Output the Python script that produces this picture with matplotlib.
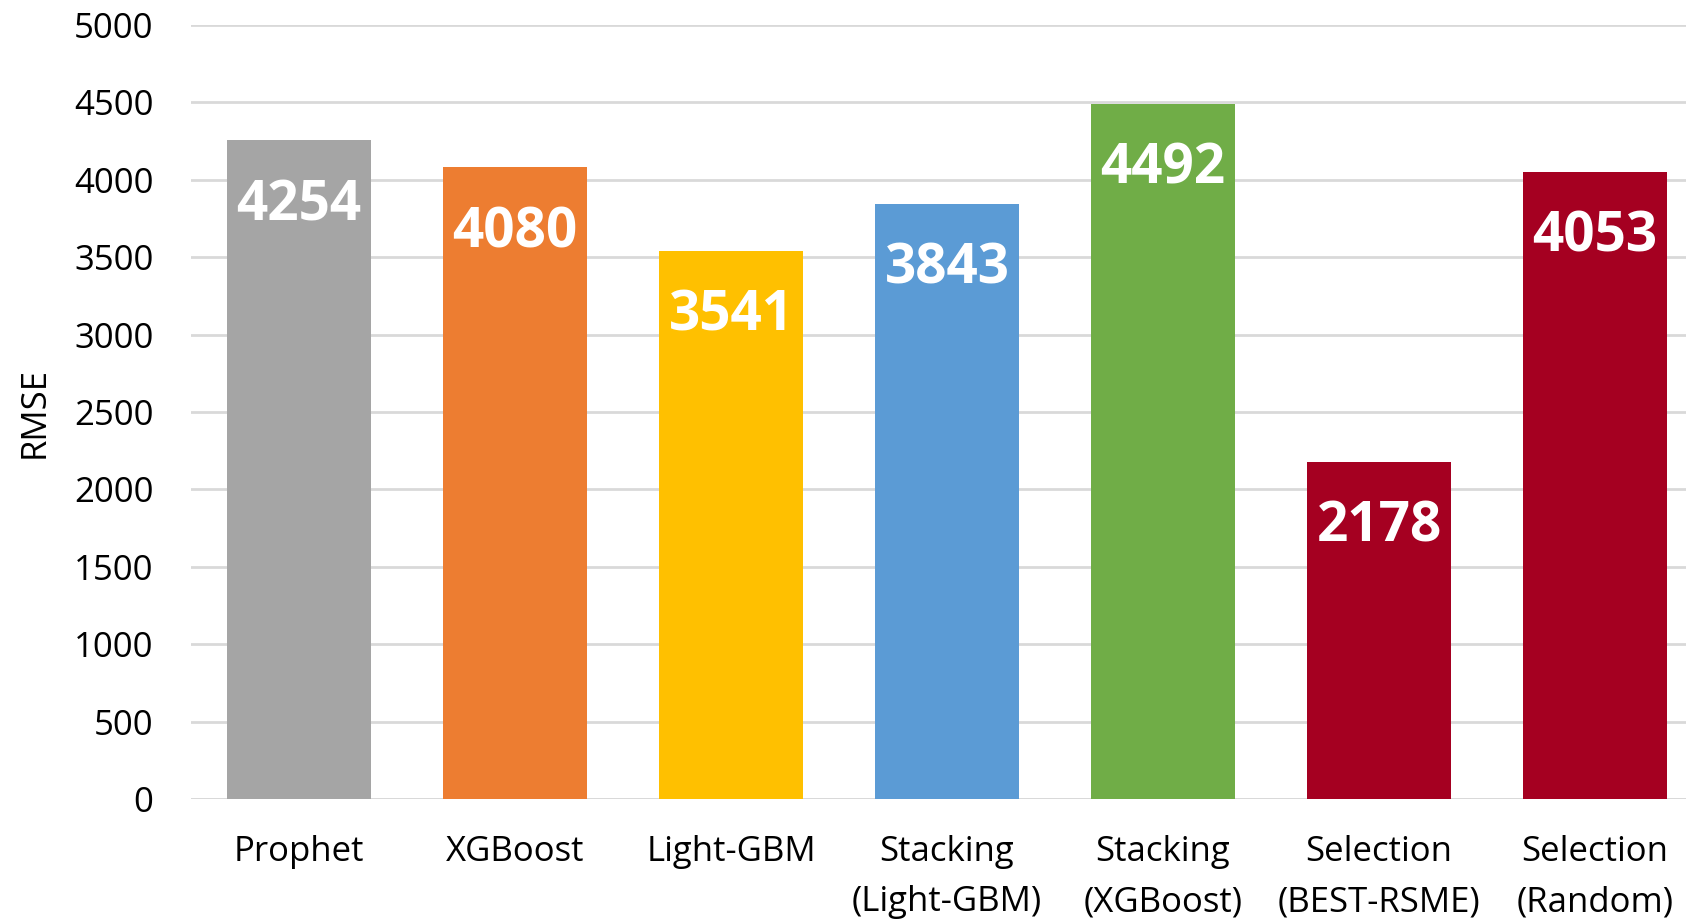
import numpy as np
import matplotlib.pyplot as plt

# chart data
models = ["Prophet", "XGBoost", "Light-GBM", "Stacking\n(Light-GBM)",
          "Stacking\n(XGBoost)", "Selection\n(BEST-RSME)", "Selection\n(Random)"]
rmse = [4254, 4080, 3541, 3843, 4492, 2178, 4053]
colours = ["#A5A5A5", "#ED7D31", "#FFC000", "#5B9BD5", "#70AD47", "#A50021", "#A50021"]
y_ticks = np.arange(0, 5001, 500)

plt.rcParams["font.family"] = ["Open Sans", "DejaVu Sans"]

fig = plt.figure(figsize=(16.86, 9.22), dpi=100)
# axes runs slightly past the right edge, like the cropped original
ax = fig.add_axes([191 / 1686, 1 - 799 / 922, 1512 / 1686, 774 / 922])

x = np.arange(len(models))
bars = ax.bar(x, rmse, width=0.67, color=colours, zorder=3)

for xi, v in zip(x, rmse):
    ax.annotate(str(v), (xi, v), xytext=(0, -47), textcoords="offset points",
                ha="center", va="center", color="white", fontsize=39.5,
                fontweight="bold", zorder=4)

ax.set_xlim(-0.5, len(models) - 0.5)
ax.set_ylim(0, 5000)
ax.set_yticks(y_ticks)
ax.set_xticks(x)
ax.set_xticklabels(models, fontsize=25, linespacing=1.62)
ax.tick_params(axis="y", labelsize=25, length=0, pad=27)
ax.tick_params(axis="x", length=0, pad=26)
ax.grid(axis="y", color="#D9D9D9", linewidth=2, zorder=0)
for s in ax.spines.values():
    s.set_visible(False)
ax.axhline(0, color="#D9D9D9", linewidth=2, zorder=2)

ax.set_ylabel("RMSE", fontsize=25, labelpad=16)

fig.savefig("out.png", dpi=100)
